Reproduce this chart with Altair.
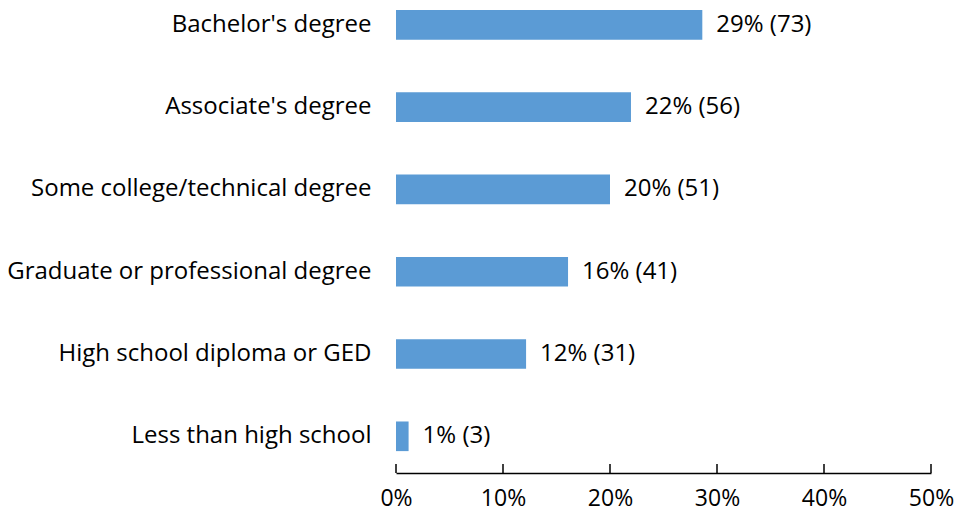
import altair as alt
import pandas as pd

categories = [
    "Bachelor's degree",
    "Associate's degree",
    "Some college/technical degree",
    "Graduate or professional degree",
    "High school diploma or GED",
    "Less than high school",
]
counts = [73, 56, 51, 41, 31, 3]
total = 255
shares = [c / total for c in counts]
labels = ["29% (73)", "22% (56)", "20% (51)", "16% (41)", "12% (31)", "1% (3)"]
tick_values = [0, 0.1, 0.2, 0.3, 0.4, 0.5]

df = pd.DataFrame({"cat": categories, "share": shares, "label": labels})
ticks_df = pd.DataFrame({"t": tick_values})

FONT = "Open Sans"
W, H = 535, 463

x_scale = alt.Scale(domain=[0, 0.5], nice=False)
y_enc = alt.Y(
    "cat:N",
    sort=categories,
    scale=alt.Scale(paddingInner=0.64, paddingOuter=0.133, align=0),
    axis=alt.Axis(
        title=None, domain=False, ticks=False, labelPadding=25,
        labelFontSize=24, labelFont=FONT, labelColor="#000000", labelLimit=420,
    ),
)

bars = alt.Chart(df).mark_bar(color="#5B9BD5").encode(
    x=alt.X(
        "share:Q",
        scale=x_scale,
        axis=alt.Axis(
            title=None, values=tick_values, format=".0%", grid=False,
            ticks=False, domainColor="#000000", domainWidth=1.5,
            labelFontSize=23, labelFont=FONT, labelColor="#000000",
            labelPadding=14, labelFlush=False,
        ),
    ),
    y=y_enc,
)

text = alt.Chart(df).mark_text(
    align="left", baseline="middle", dx=14, fontSize=24, font=FONT, color="#000000"
).encode(
    x=alt.X("share:Q", scale=x_scale),
    y=alt.Y("cat:N", sort=categories),
    text="label:N",
)

tick_marks = alt.Chart(ticks_df).mark_rule(color="#000000", strokeWidth=1.5).encode(
    x=alt.X("t:Q", scale=x_scale),
    y=alt.value(H - 9),
    y2=alt.value(H),
)

chart = alt.layer(bars, text, tick_marks).properties(
    width=W, height=H,
    autosize=alt.AutoSizeParams(type="none"),
    padding={"left": 388, "top": 2, "right": 24, "bottom": 38},
).configure(background="white").configure_view(strokeWidth=0, stroke="transparent")

chart.save("out.html", embed_options={"renderer": "svg", "actions": False})
